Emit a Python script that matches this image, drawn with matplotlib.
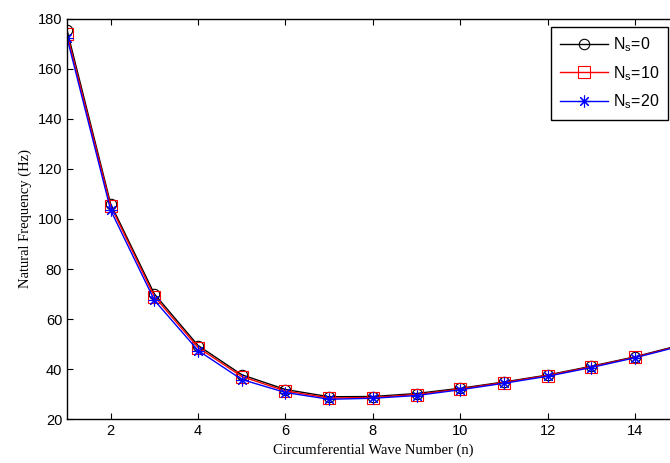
import numpy as np
import matplotlib
matplotlib.use("Agg")
import matplotlib.pyplot as plt

plt.rcParams['font.family'] = 'Liberation Sans'
plt.rcParams['mathtext.default'] = 'regular'

n = [1, 2, 3, 4, 5, 6, 7, 8, 9, 10, 11, 12, 13, 14, 15]
f_ns0 = [175.5, 106.0, 70.0, 49.4, 37.7, 31.8, 28.9, 29.0, 30.2, 32.3, 34.8, 37.6, 41.1, 44.9, 49.4]
f_ns10 = [174.0, 105.2, 69.0, 48.6, 37.0, 31.2, 28.4, 28.6, 29.8, 32.0, 34.6, 37.4, 40.9, 44.7, 49.2]
f_ns20 = [172.5, 103.5, 67.5, 47.4, 35.8, 30.6, 27.9, 28.3, 29.4, 31.7, 34.3, 37.1, 40.6, 44.5, 49.0]
labels = ['N$_s$=0', 'N$_s$=10', 'N$_s$=20']

fig = plt.figure(figsize=(6.7, 4.63), dpi=100)
ax = fig.add_axes([0.1, 0.095, 0.913, 0.864])

ax.plot(n, f_ns0, color='black', lw=1, marker='o', ms=7.5, mfc='none', mec='black', mew=0.8, label=labels[0])
ax.plot(n, f_ns10, color='red', lw=1, marker='s', ms=8.5, mfc='none', mec='red', mew=0.8, label=labels[1])
ax.plot(n, f_ns20, color='blue', lw=1, marker=(8, 2, 0), ms=8.5, mec='blue', mew=0.8, label=labels[2])

ax.set_xlim(1, 15)
ax.set_ylim(20, 180)
ax.set_xticks(np.arange(2, 15, 2))
ax.set_yticks(np.arange(20, 181, 20))
ax.tick_params(direction='in', top=True, right=True, labelsize=10.5, length=4, width=0.8)
for sp in ax.spines.values():
    sp.set_linewidth(1.0)

ax.set_xlabel('Circumferential Wave Number (n)', family='Liberation Serif', fontsize=10.5, labelpad=4)
ax.set_ylabel('Natural Frequency (Hz)', family='Liberation Serif', fontsize=10.5, labelpad=4)

leg = ax.legend(loc='upper right', bbox_to_anchor=(0.997, 0.942), bbox_transform=fig.transFigure,
                fontsize=11.5, handlelength=3.0, fancybox=False, framealpha=1, edgecolor='black',
                borderpad=0.55, labelspacing=0.6, handletextpad=0.3, borderaxespad=0)
leg.get_frame().set_linewidth(1.0)

fig.savefig('out.png', dpi=100)
